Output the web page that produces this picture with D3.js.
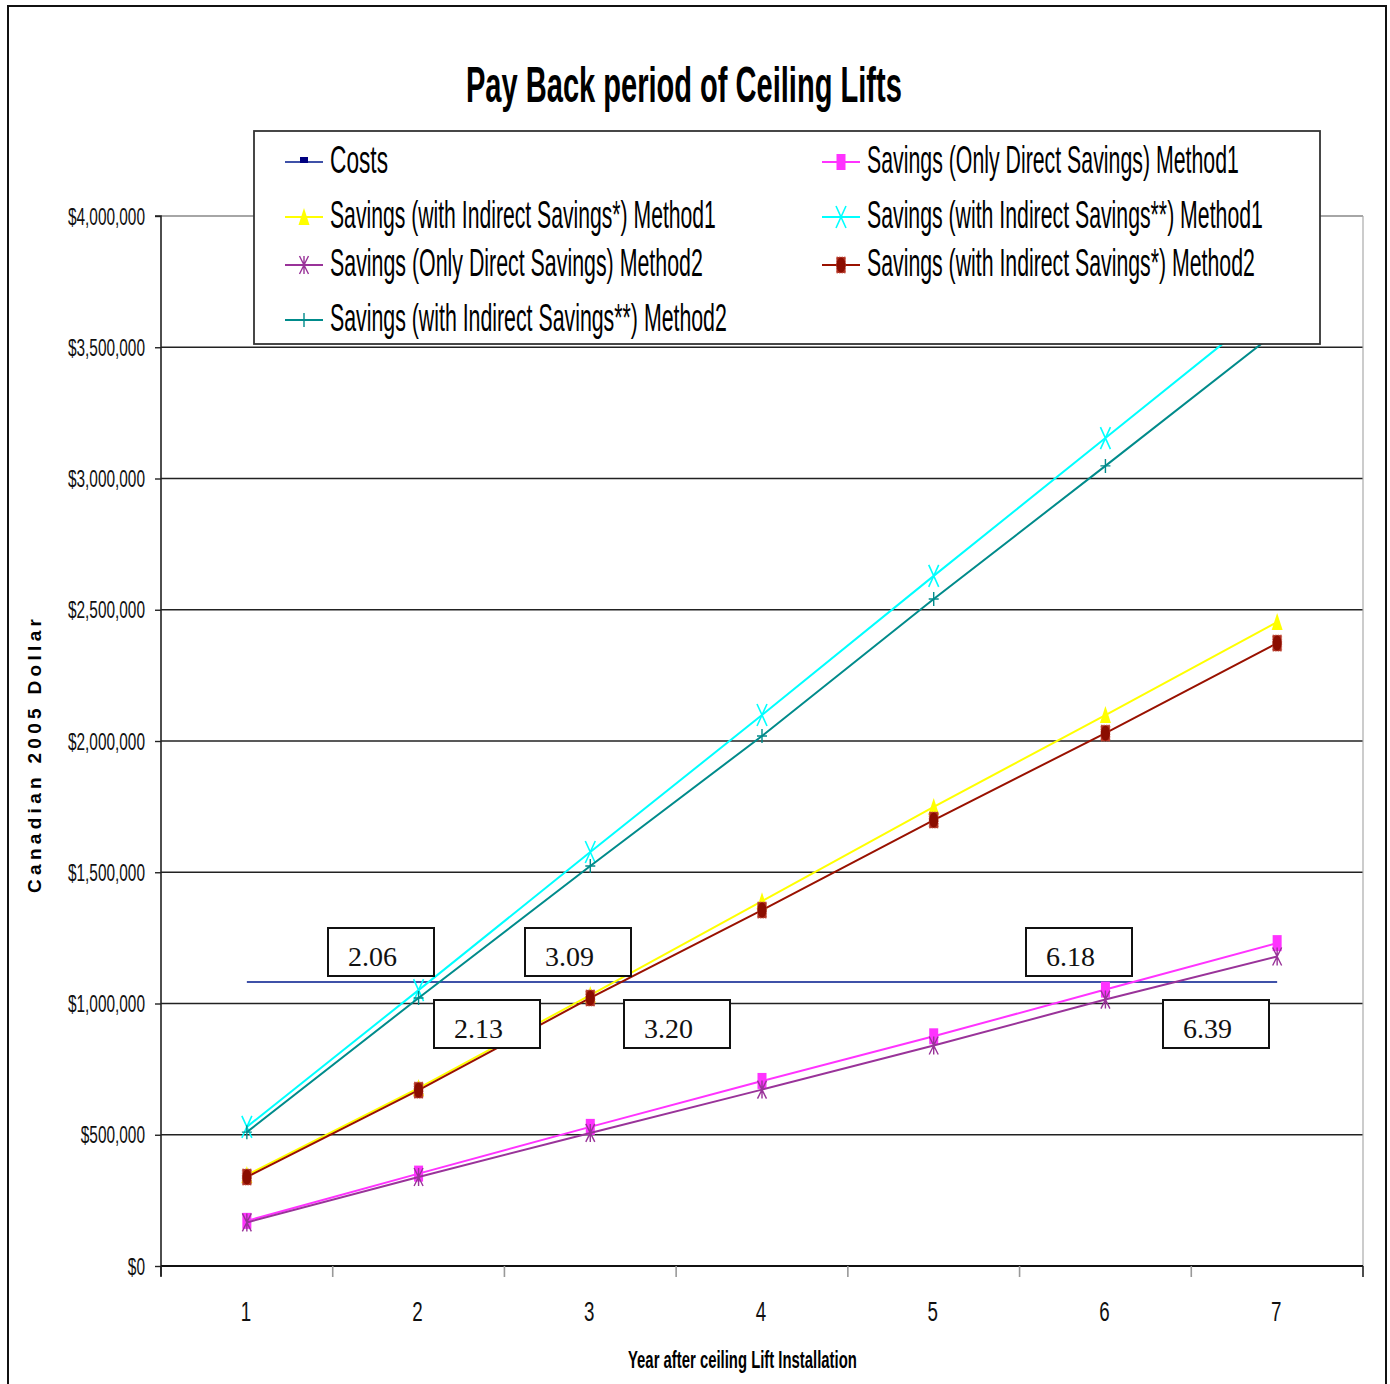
<!DOCTYPE html>
<html>
<head>
<meta charset="utf-8">
<script src="https://cdn.jsdelivr.net/npm/d3@7"></script>
<style>
  body { margin: 0; background: #fff; }
  svg { display: block; font-family: "Liberation Sans", Arial, sans-serif; }
</style>
</head>
<body>
<div class="chart"></div>
<script>
const width = 1390;
const height = 1384;

// data
const years = [1, 2, 3, 4, 5, 6, 7];
const costs = [1082000, 1082000, 1082000, 1082000, 1082000, 1082000, 1082000];
const directM1 = [172000, 352000, 530000, 705000, 875000, 1053000, 1230000];
const indirect1M1 = [347000, 678000, 1032000, 1390000, 1749000, 2099000, 2453000];
const indirect2M1 = [530000, 1051000, 1577000, 2099000, 2629000, 3154000, 3680000];
const directM2 = [166000, 339000, 507000, 672000, 840000, 1015000, 1179000];
const indirect1M2 = [339000, 670000, 1021000, 1356000, 1699000, 2030000, 2373000];
const indirect2M2 = [510000, 1021000, 1524000, 2019000, 2541000, 3048000, 3560000];
const yTicks = [0, 500000, 1000000, 1500000, 2000000, 2500000, 3000000, 3500000, 4000000];

const seriesNames = [
  'Costs',
  'Savings (Only Direct Savings) Method1',
  'Savings (with Indirect Savings*) Method1',
  'Savings (with Indirect Savings**) Method1',
  'Savings (Only Direct Savings) Method2',
  'Savings (with Indirect Savings*) Method2',
  'Savings (with Indirect Savings**) Method2'
];
const seriesValues = [costs, directM1, indirect1M1, indirect2M1, directM2, indirect1M2, indirect2M2];

const paybackLabels = ['2.06', '3.09', '6.18', '2.13', '3.20', '6.39'];

const style = [
  { line: '#3f51a8', marker: 'none', fill: '#000080' },
  { line: '#ff33ff', marker: 'square', fill: '#ff33ff' },
  { line: '#ffff00', marker: 'triangle', fill: '#ffff00' },
  { line: '#00ffff', marker: 'x', fill: '#00ffff' },
  { line: '#993399', marker: 'star', fill: '#993399' },
  { line: '#991100', marker: 'dot', fill: '#8b0d00' },
  { line: '#008b8b', marker: 'plus', fill: '#008b8b' }
];
const legendText = [58, 372, 386, 396, 373, 388, 397];
const squeeze = 0.67;

const plot = { left: 161, right: 1363, top: 216, bottom: 1266 };

const svg = d3.select('.chart')
  .append('svg')
    .attr('width', width)
    .attr('height', height);

const x = d3.scaleBand()
  .domain(years)
  .range([plot.left, plot.right]);

const y = d3.scaleLinear()
  .domain([0, 4000000])
  .range([plot.bottom, plot.top]);

const cx = d => x(d) + x.bandwidth() / 2;

// squeeze a text horizontally to a given width
function fitWidth(sel, target) {
  sel.each(function(d, i) {
    const len = this.getComputedTextLength();
    const w = typeof target === 'function' ? target(d, i) : target;
    const t = d3.select(this);
    const base = t.attr('data-pos');
    t.attr('transform', `${base} scale(${w / len},1)`);
  });
}

// outer frame
svg.append('rect')
  .attr('x', 8)
  .attr('y', 6)
  .attr('width', 1378)
  .attr('height', 1400)
  .attr('fill', 'none')
  .attr('stroke', '#111')
  .attr('stroke-width', 2);

// gridlines
svg.append('g')
  .selectAll('line')
  .data(yTicks.filter(d => d > 0))
  .enter().append('line')
    .attr('x1', plot.left)
    .attr('x2', plot.right)
    .attr('y1', d => y(d))
    .attr('y2', d => y(d))
    .attr('stroke', d => d === 4000000 ? '#888' : '#222')
    .attr('stroke-width', 1.6);

// right border of plot area
svg.append('line')
  .attr('x1', plot.right).attr('x2', plot.right)
  .attr('y1', plot.top).attr('y2', plot.bottom)
  .attr('stroke', '#aaa')
  .attr('stroke-width', 1.2);

// y axis
const yAxis = svg.append('g')
  .attr('transform', `translate(${plot.left},0)`)
  .call(d3.axisLeft(y).tickValues(yTicks).tickFormat(d3.format('$,.0f')).tickSize(6));
yAxis.select('.domain').attr('stroke', '#222').attr('stroke-width', 1.6)
  .attr('d', `M-6,${plot.top}H0V${plot.bottom + 10}`);
yAxis.selectAll('.tick line').attr('stroke', '#222').attr('stroke-width', 1.4);
yAxis.selectAll('.tick text')
  .attr('x', 0)
  .attr('dy', '0.35em')
  .attr('font-size', 23)
  .attr('font-family', '"Liberation Sans", Arial, sans-serif')
  .attr('fill', '#111')
  .attr('transform', `translate(-16,0) scale(${squeeze},1)`);

// x axis
svg.append('line')
  .attr('x1', plot.left).attr('x2', plot.right)
  .attr('y1', plot.bottom).attr('y2', plot.bottom)
  .attr('stroke', '#111')
  .attr('stroke-width', 1.8);

const xEdges = years.map(d => x(d)).concat([plot.right]);
svg.append('g')
  .selectAll('line')
  .data(xEdges)
  .enter().append('line')
    .attr('x1', d => d).attr('x2', d => d)
    .attr('y1', plot.bottom).attr('y2', plot.bottom + 11)
    .attr('stroke', (d, i) => i === 0 || i === xEdges.length - 1 ? '#222' : '#999')
    .attr('stroke-width', 1.6);

svg.append('g')
  .selectAll('text')
  .data(years)
  .enter().append('text')
    .attr('transform', d => `translate(${cx(d) - 1},1321) scale(${squeeze},1)`)
    .attr('text-anchor', 'middle')
    .attr('font-size', 28)
    .attr('fill', '#111')
    .text(d => d);

// series lines
const line = d3.line()
  .x((d, i) => cx(years[i]))
  .y(d => y(d));

const seriesG = svg.append('g');

seriesValues.forEach((values, s) => {
  seriesG.append('path')
    .datum(values)
    .attr('d', line)
    .attr('fill', 'none')
    .attr('stroke', style[s].line)
    .attr('stroke-width', 2);

  if (style[s].marker !== 'none') {
    seriesG.append('g')
      .selectAll('g')
      .data(values)
      .enter().append('g')
        .attr('transform', (d, i) => `translate(${cx(years[i])},${y(d)})`)
        .each(function() { drawMarker(d3.select(this), style[s]); });
  }
});

function drawMarker(g, st) {
  const c = st.fill;
  switch (st.marker) {
    case 'square':
      g.append('rect').attr('x', -4.5).attr('y', -8).attr('width', 9).attr('height', 16).attr('fill', c);
      break;
    case 'triangle':
      g.append('path').attr('d', 'M0,-9L5.5,8L-5.5,8Z').attr('fill', c);
      break;
    case 'dot':
      g.append('rect').attr('x', -4.5).attr('y', -8).attr('width', 9).attr('height', 16)
        .attr('fill', '#b03020').attr('stroke', '#c86050').attr('stroke-width', 0.8).attr('stroke-dasharray', '1.5,1');
      g.append('ellipse').attr('rx', 4.5).attr('ry', 7.5).attr('fill', c);
      break;
    case 'x':
      g.append('path').attr('d', 'M-5,-11L5,11M5,-11L-5,11').attr('stroke', c).attr('stroke-width', 1.6);
      break;
    case 'star':
      g.append('path').attr('d', 'M-4.5,-9L4.5,9M4.5,-9L-4.5,9M0,-9V9').attr('stroke', c).attr('stroke-width', 1.4);
      break;
    case 'plus':
      g.append('path').attr('d', 'M-5,0H5M0,-7V7').attr('stroke', c).attr('stroke-width', 1.4);
      break;
  }
}

// payback label boxes
const boxW = 106;
const boxH = 48;
const boxPos = [[328, 928], [525, 928], [1026, 928], [434, 1000], [624, 1000], [1163, 1000]];
const boxes = svg.append('g')
  .selectAll('g')
  .data(paybackLabels)
  .enter().append('g')
    .attr('transform', (d, i) => `translate(${boxPos[i][0]},${boxPos[i][1]})`);
boxes.append('rect')
  .attr('width', boxW)
  .attr('height', boxH)
  .attr('fill', '#fff')
  .attr('stroke', '#111')
  .attr('stroke-width', 2);
boxes.append('text')
  .attr('x', 20)
  .attr('y', 38)
  .style('font-family', '"Liberation Serif", "Times New Roman", serif')
  .attr('font-size', 28)
  .attr('fill', '#111')
  .text(d => d);

// legend
const legend = svg.append('g');
legend.append('rect')
  .attr('x', 254)
  .attr('y', 131)
  .attr('width', 1066)
  .attr('height', 213)
  .attr('fill', '#fff')
  .attr('stroke', '#333')
  .attr('stroke-width', 1.8);

const legendCols = [285, 822];
const legendRows = [162, 217, 265, 320];
const legendItem = legend.selectAll('.item')
  .data(seriesNames)
  .enter().append('g')
    .attr('class', 'item')
    .attr('transform', (d, i) => `translate(${legendCols[i % 2]},${legendRows[Math.floor(i / 2)]})`);

legendItem.append('line')
  .attr('x1', 0).attr('x2', 38)
  .attr('stroke', (d, i) => style[i].line)
  .attr('stroke-width', 2);

legendItem.append('g')
  .attr('transform', 'translate(19,0)')
  .each(function(d, i) {
    const g = d3.select(this);
    if (style[i].marker === 'none') {
      g.append('rect').attr('x', -4).attr('y', -5).attr('width', 8).attr('height', 6).attr('fill', style[i].fill);
    } else {
      drawMarker(g, style[i]);
    }
  });

legendItem.append('text')
  .attr('data-pos', 'translate(45,11)')
  .attr('font-size', 38)
  .attr('fill', '#000')
  .text(d => d)
  .call(fitWidth, (d, i) => legendText[i]);

// title
svg.append('text')
  .attr('data-pos', 'translate(466,102)')
  .attr('font-size', 50)
  .attr('font-weight', 'bold')
  .attr('fill', '#000')
  .text('Pay Back period of Ceiling Lifts')
  .call(fitWidth, 436);

// axis titles
svg.append('text')
  .attr('data-pos', 'translate(628,1368)')
  .attr('font-size', 24)
  .attr('font-weight', 'bold')
  .attr('fill', '#000')
  .text('Year after ceiling  Lift Installation')
  .call(fitWidth, 229);

svg.append('text')
  .attr('transform', 'translate(41,893) rotate(-90)')
  .attr('font-size', 19)
  .attr('font-weight', 'bold')
  .attr('letter-spacing', 4.3)
  .attr('fill', '#000')
  .text('Canadian 2005 Dollar');
</script>
</body>
</html>
